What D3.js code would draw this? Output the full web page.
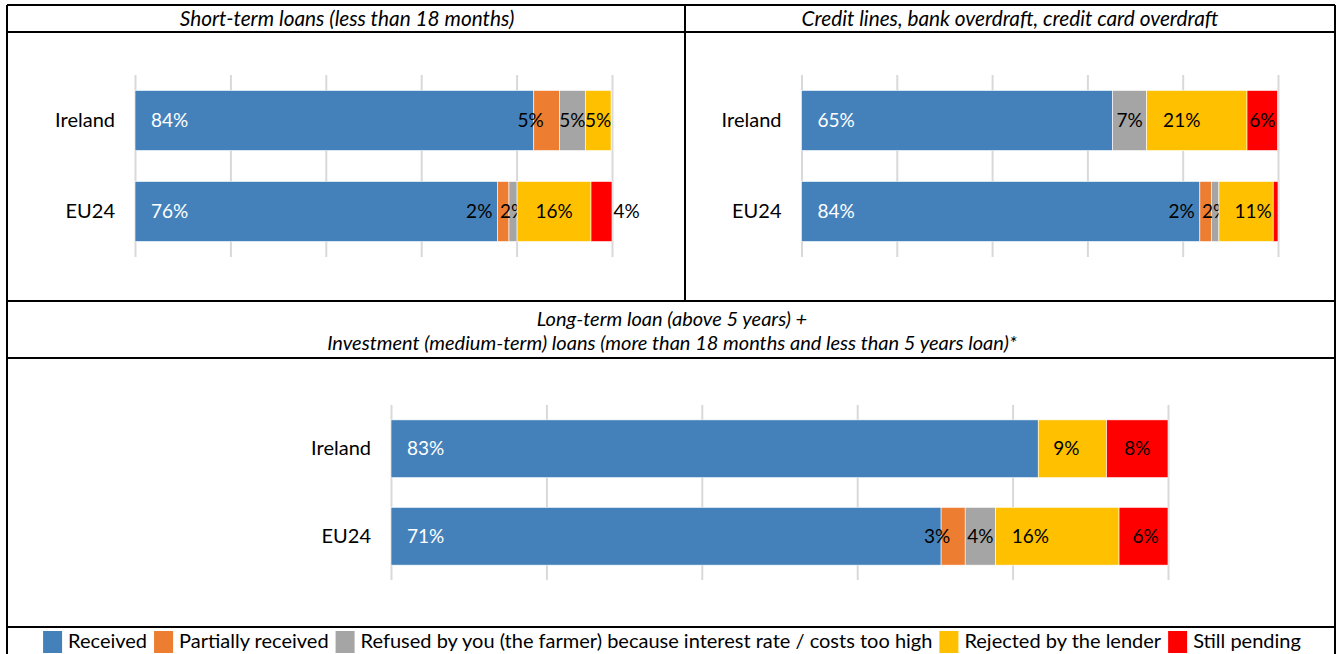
<!DOCTYPE html>
<html>
<head>
<meta charset="utf-8">
<script src="https://cdn.jsdelivr.net/npm/d3@7"></script>
<style>
  body { margin: 0; background: #fff; }
  text { font-family: Lato, "Open Sans", sans-serif; }
</style>
</head>
<body>
<script>
var W = 1336;
var H = 654;

// data (% of applications)
var categories = ["Ireland", "EU24"];
var seriesNames = ["Received", "Partially received",
  "Refused by you (the farmer) because interest rate / costs too high",
  "Rejected by the lender", "Still pending"];
var seriesColors = ["#4481bb", "#ed7d31", "#a5a5a5", "#ffc000", "#ff0000"];
var xTicks = [0, 20, 40, 60, 80, 100];

var shortTitle = ["Short-term loans (less than 18 months)"];
var shortIreland = [83.6, 5.4, 5.4, 5.4, 0];
var shortEU24 = [76.0, 2.4, 1.7, 15.5, 4.4];

var creditTitle = ["Credit lines, bank overdraft, credit card overdraft"];
var creditIreland = [65.3, 0, 7.1, 21.1, 6.4];
var creditEU24 = [83.6, 2.4, 1.6, 11.4, 1.0];

var longTitle = ["Long-term loan (above 5 years) +",
  "Investment (medium-term) loans (more than 18 months and less than 5 years loan)*"];
var longIreland = [83.3, 0, 0, 8.8, 7.9];
var longEU24 = [70.8, 3.1, 3.9, 15.9, 6.3];

var svg = d3.select("body").append("svg")
  .attr("width", W).attr("height", H);

// label nudges (px) where the labels were moved by hand in the original
var nudges = {
  "short|Ireland|1": -16, "short|EU24|1": -24, "short|EU24|4": 25,
  "credit|Ireland|3": -15, "credit|EU24|1": -24, "credit|EU24|3": 7,
  "long|Ireland|3": -6, "long|EU24|1": -16, "long|EU24|3": -27, "long|EU24|4": 2
};

var fmt = d3.format(".0f");

function drawPanel(p) {
  var x = d3.scaleLinear().domain([0, 100]).range([p.left, p.right]);
  var y = d3.scaleBand().domain(categories)
    .range([p.top, p.bottom]).paddingInner(0.34).paddingOuter(0.17);

  var g = svg.append("g");

  // gridlines
  var grid = g.append("g")
    .attr("transform", "translate(0," + p.bottom + ")")
    .call(d3.axisBottom(x).tickValues(xTicks).tickSize(-(p.bottom - p.top)).tickFormat(""));
  grid.select(".domain").remove();
  grid.selectAll("line").attr("stroke", "#d9d9d9").attr("stroke-width", 2);

  // category axis
  var ax = g.append("g")
    .attr("transform", "translate(" + p.left + ",0)")
    .call(d3.axisLeft(y).tickSize(0).tickPadding(20));
  ax.select(".domain").remove();
  ax.selectAll("text").attr("font-size", 20).attr("fill", "#000")
    .attr("font-family", "Lato, 'Open Sans', sans-serif");

  var rows = categories.map(function(c, i) { return {cat: c, values: p.rows[i]}; });
  var stacked = d3.stack().keys(d3.range(seriesNames.length))
    .value(function(d, k) { return d.values[k]; })(rows);

  var layer = g.selectAll("g.layer").data(stacked).enter().append("g")
    .attr("class", "layer")
    .attr("fill", function(s) { return seriesColors[s.key]; });

  layer.selectAll("rect").data(function(s) { return s; }).enter().append("rect")
    .attr("x", function(d) { return x(d[0]); })
    .attr("y", function(d) { return y(d.data.cat); })
    .attr("width", function(d) { return x(d[1]) - x(d[0]); })
    .attr("height", y.bandwidth())
    .attr("stroke", "#fff").attr("stroke-width", 0.6);

  layer.selectAll("text").data(function(s) {
      return s.map(function(d) { d.key = s.key; return d; })
        .filter(function(d) { return d[1] - d[0] >= 1.5; });
    })
    .enter().append("text")
    .attr("x", function(d) {
      if (d.key === 0) return x(d[0]) + 16;
      var n = nudges[p.name + "|" + d.data.cat + "|" + d.key] || 0;
      return (x(d[0]) + x(d[1])) / 2 + n;
    })
    .attr("y", function(d) { return y(d.data.cat) + y.bandwidth() / 2; })
    .attr("dy", "0.35em")
    .attr("text-anchor", function(d) { return d.key === 0 ? "start" : "middle"; })
    .attr("font-size", 19)
    .attr("fill", function(d) { return d.key === 0 ? "#fff" : "#000"; })
    .text(function(d) { return fmt(d[1] - d[0]) + "%"; });
}

// table frame
var frame = svg.append("g").attr("fill", "none").attr("stroke", "#000").attr("stroke-width", 2);
[[7, 5, 1335, 5], [7, 32, 1335, 32], [7, 301, 1335, 301], [7, 358, 1335, 358],
 [7, 627, 1335, 627], [7, 5, 7, 660], [1335, 5, 1335, 660], [685, 5, 685, 301]]
  .forEach(function(l) {
    frame.append("line").attr("x1", l[0]).attr("y1", l[1]).attr("x2", l[2]).attr("y2", l[3]);
  });

function headerText(lines, cx, y0, lh, size) {
  svg.append("g").selectAll("text").data(lines).enter().append("text")
    .attr("x", cx).attr("y", function(d, i) { return y0 + i * lh; })
    .attr("text-anchor", "middle").attr("font-style", "italic")
    .attr("font-size", size).attr("fill", "#000")
    .text(function(d) { return d; });
}
headerText(shortTitle, 347, 26, 0, 20.8);
headerText(creditTitle, 1010, 26, 0, 20.8);
headerText(longTitle, 672, 326, 23.5, 20);

drawPanel({name: "short", left: 135, right: 612, top: 75, bottom: 257, rows: [shortIreland, shortEU24]});
drawPanel({name: "credit", left: 801.5, right: 1278, top: 75, bottom: 257, rows: [creditIreland, creditEU24]});
drawPanel({name: "long", left: 391, right: 1168, top: 405, bottom: 580, rows: [longIreland, longEU24]});

// legend
var leg = svg.append("g");
var items = leg.selectAll("g").data(seriesNames).enter().append("g");
items.append("rect").attr("width", 19).attr("height", 22).attr("y", 631)
  .attr("fill", function(d, i) { return seriesColors[i]; });
items.append("text").attr("x", 25).attr("y", 648)
  .attr("font-size", 20).attr("fill", "#000")
  .text(function(d) { return d; });
var pos = 0;
var offsets = [];
items.each(function() {
  offsets.push(pos);
  pos += 25 + this.querySelector("text").getComputedTextLength() + 7;
});
var start = 672 - (pos - 7) / 2;
items.attr("transform", function(d, i) { return "translate(" + (start + offsets[i]) + ",0)"; });
</script>
</body>
</html>
